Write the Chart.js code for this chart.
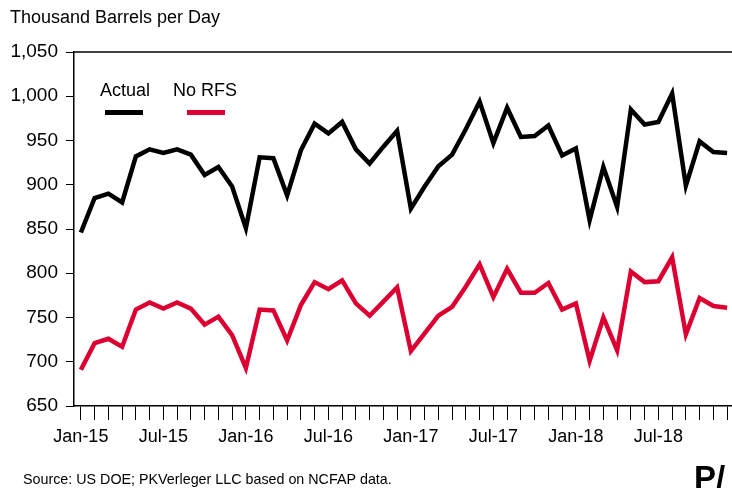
<!DOCTYPE html>
<html>
<head>
<meta charset="utf-8">
<script src="https://cdn.jsdelivr.net/npm/chart.js@4/dist/chart.umd.min.js"></script>
<style>
    html, body { margin: 0; padding: 0; background: #fff; overflow: hidden; }
    #wrap { position: relative; width: 732px; height: 488px; overflow: hidden; }
    #box { position: absolute; left: 0; top: 0; width: 740px; height: 488px; }
</style>
</head>
<body>
<div id="wrap"><div id="box"><canvas id="chart_fuel"></canvas></div></div>
<script>
// Data
const months = [
    'Jan-15','Feb-15','Mar-15','Apr-15','May-15','Jun-15','Jul-15','Aug-15','Sep-15','Oct-15','Nov-15','Dec-15',
    'Jan-16','Feb-16','Mar-16','Apr-16','May-16','Jun-16','Jul-16','Aug-16','Sep-16','Oct-16','Nov-16','Dec-16',
    'Jan-17','Feb-17','Mar-17','Apr-17','May-17','Jun-17','Jul-17','Aug-17','Sep-17','Oct-17','Nov-17','Dec-17',
    'Jan-18','Feb-18','Mar-18','Apr-18','May-18','Jun-18','Jul-18','Aug-18','Sep-18','Oct-18','Nov-18','Dec-18'
];
const shown_labels = ['Jan-15','Jul-15','Jan-16','Jul-16','Jan-17','Jul-17','Jan-18','Jul-18'];
const actual = [
    846, 885, 890, 880, 932, 940, 936, 940, 934, 911, 920, 898,
    851, 931, 930, 888, 939, 969, 958, 971, 940, 924, 943, 961,
    873, 898, 921, 934, 963, 994, 947, 987, 954, 955, 967, 933,
    941, 860, 920, 875, 985, 968, 971, 1003, 899, 949, 937, 936
];
const no_rfs = [
    691, 721, 726, 717, 759, 767, 760, 767, 760, 742, 751, 730,
    693, 759, 758, 724, 764, 790, 782, 792, 766, 752, 768, 784,
    712, 732, 752, 762, 785, 810, 773, 805, 778, 778, 789, 759,
    766, 701, 750, 713, 802, 790, 791, 818, 731, 772, 763, 761
];
const series_names = ['Actual', 'No RFS'];
const series_colors = ['#000000', '#dc0032'];
const font_family = '"Liberation Sans", Arial, sans-serif';

// Extras: frame top line, title, legend, source, logo
const extras = {
    id: 'extras',
    afterDraw(chart)
    {
        const ctx = chart.ctx;
        const a = chart.chartArea;
        ctx.save();
        ctx.strokeStyle = '#000';
        ctx.lineWidth = 1.5;
        ctx.beginPath();
        ctx.moveTo(a.left, a.top);
        ctx.lineTo(chart.width, a.top);
        ctx.stroke();

        ctx.fillStyle = '#000';
        ctx.textBaseline = 'middle';

        // title
        ctx.font = '18px ' + font_family;
        ctx.fillText('Thousand Barrels per Day', 10, 18);

        // legend
        const legend_pos = [[100, 105], [173, 187]];
        series_names.forEach((name, i) =>
        {
            ctx.fillText(name, legend_pos[i][0], 91);
            ctx.strokeStyle = series_colors[i];
            ctx.lineWidth = 5;
            ctx.lineCap = 'butt';
            ctx.beginPath();
            ctx.moveTo(legend_pos[i][1], 112.5);
            ctx.lineTo(legend_pos[i][1] + 38, 112.5);
            ctx.stroke();
        });

        // source
        ctx.font = '14.3px ' + font_family;
        ctx.fillText('Source: US DOE; PKVerleger LLC based on NCFAP data.', 23, 480);

        // logo
        ctx.font = 'bold 33px ' + font_family;
        ctx.textBaseline = 'alphabetic';
        ctx.fillText('P/', 694, 489);
        ctx.restore();
    }
};

new Chart(document.getElementById('chart_fuel'),
{
    type: 'line'
    ,data: {
        labels: months
        ,datasets: [
            {
                label: series_names[0]
                ,data: actual
                ,borderColor: series_colors[0]
                ,borderWidth: 4.5
                ,pointRadius: 0
                ,tension: 0
            }
            ,{
                label: series_names[1]
                ,data: no_rfs
                ,borderColor: series_colors[1]
                ,borderWidth: 4.5
                ,pointRadius: 0
                ,tension: 0
            }
        ]
    }
    ,options: {
        responsive: true
        ,maintainAspectRatio: false
        ,animation: false
        ,layout: {padding: {left: 0, right: 6, top: 52, bottom: 20}}
        ,plugins: {
            legend: {display: false}
            ,tooltip: {enabled: false}
        }
        ,scales: {
            x: {
                offset: true
                ,grid: {display: true, drawOnChartArea: false, drawTicks: true, tickLength: 14, color: '#000', lineWidth: 1, offset: false}
                ,border: {display: true, color: '#000', width: 1.5}
                ,ticks: {
                    autoSkip: false
                    ,maxRotation: 0
                    ,padding: 6
                    ,color: '#000'
                    ,font: {family: font_family, size: 18}
                    ,callback: function (v) { const l = this.getLabelForValue(v); return shown_labels.includes(l) ? l : ''; }
                }
                ,afterFit: (s) => { s.height = 62; }
            }
            ,y: {
                min: 650
                ,max: 1050
                ,grid: {display: true, drawOnChartArea: false, drawTicks: true, tickLength: 8, color: '#000', lineWidth: 1}
                ,border: {display: true, color: '#000', width: 1.5}
                ,ticks: {
                    stepSize: 25
                    ,padding: 8
                    ,color: '#000'
                    ,font: {family: font_family, size: 19}
                    ,callback: (v) => v % 50 === 0 ? v.toLocaleString('en-US') : ''
                }
                ,afterFit: (s) => { s.width = 74; }
            }
        }
    }
    ,plugins: [extras]
});
</script>
</body>
</html>
